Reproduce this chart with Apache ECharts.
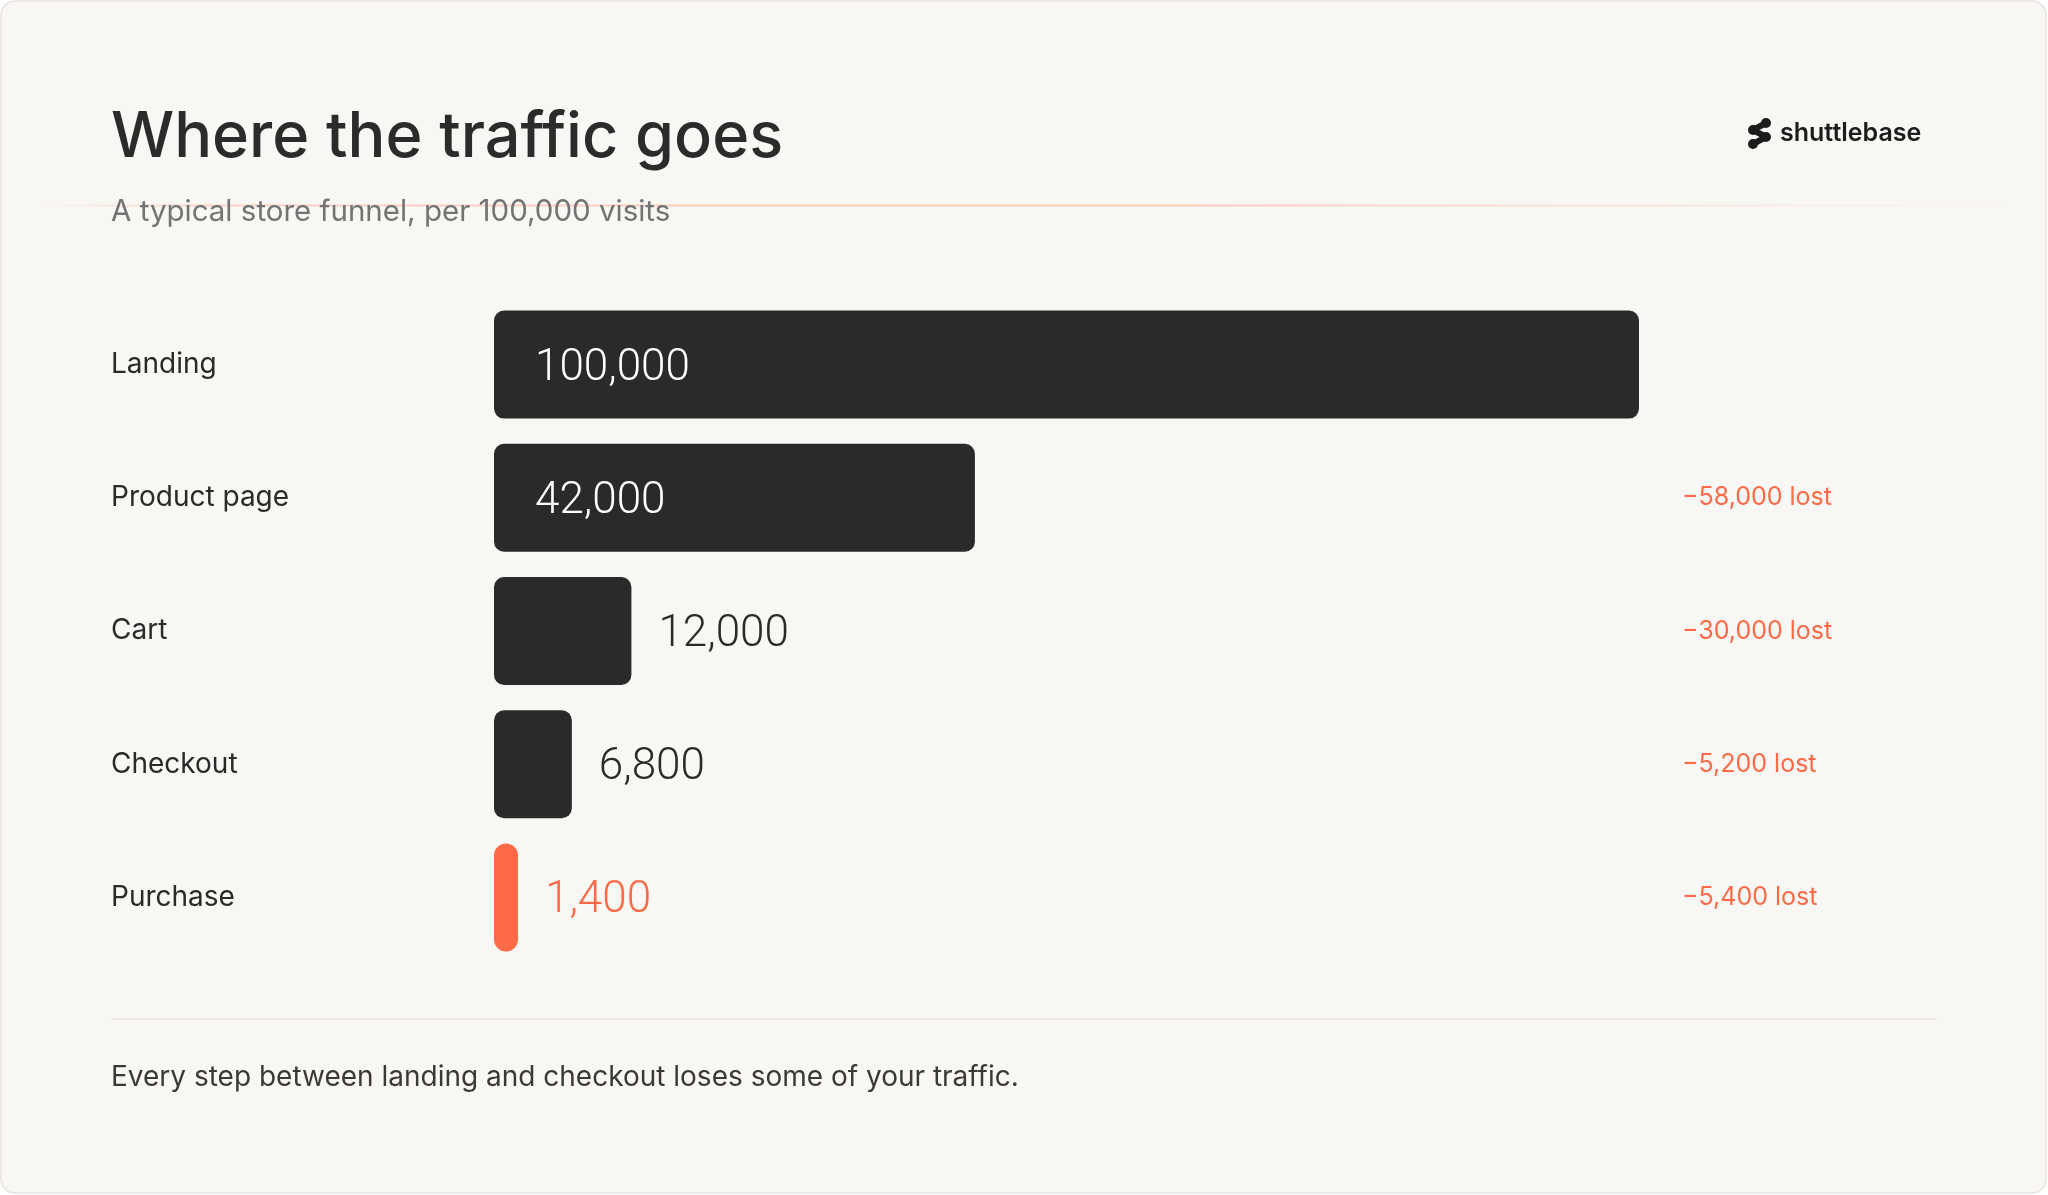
<!DOCTYPE html>
<html>
<head>
<meta charset="utf-8">
<title>Where the traffic goes</title>
<script src="https://cdn.jsdelivr.net/npm/echarts@6/dist/echarts.min.js"></script>
<style>
html, body { margin: 0; padding: 0; background: #ffffff; }
#funnel { width: 2048px; height: 1195px; }
</style>
</head>
<body>
<div id="funnel"></div>
<script>
// funnel steps, per 100,000 visits
var steps = ['Landing', 'Product page', 'Cart', 'Checkout', 'Purchase'];
var visits = [100000, 42000, 12000, 6800, 1400];
// visits lost vs. the previous step
var lost = [null, 58000, 30000, 5200, 5400];

var ink = '#2a2a2a';
var orange = '#fd6a48';
var sans = 'Inter, "Noto Sans", sans-serif';

function fmt(n) {
    return n.toLocaleString('en-US');
}

var barData = visits.map(function (v, i) {
    var last = i === visits.length - 1;
    var inside = v > 30000;   // wide bars carry their number inside
    return {
        value: v,
        itemStyle: { color: last ? orange : ink, borderRadius: last ? 12 : 10 },
        label: {
            position: inside ? 'insideLeft' : 'right',
            distance: inside ? 41 : 27,
            color: inside ? '#ffffff' : (last ? orange : ink)
        }
    };
});

var dom = document.getElementById('funnel');
var myChart = echarts.init(dom, null, { renderer: 'canvas' });
var option = {
    backgroundColor: '#ffffff',
    animation: false,
    grid: { left: 494, right: 409, top: 298, height: 666, containLabel: false },
    xAxis: { type: 'value', min: 0, max: 100000, show: false },
    yAxis: [{
        type: 'category',
        inverse: true,
        data: steps,
        axisLine: { show: false },
        axisTick: { show: false },
        axisLabel: {
            align: 'left',
            margin: 383,
            color: ink,
            fontFamily: sans,
            fontSize: 28,
            padding: [3, 0, 0, 0]
        }
    }, {
        // right-hand "lost" column
        type: 'category',
        inverse: true,
        position: 'right',
        data: steps,
        axisLine: { show: false },
        axisTick: { show: false },
        axisLabel: {
            align: 'left',
            margin: 43,
            color: orange,
            fontFamily: sans,
            fontSize: 25,
            padding: [5, 0, 0, 0],
            formatter: function (value, idx) {
                return lost[idx] ? '\u2212' + fmt(lost[idx]) + ' lost' : '';
            }
        }
    }],
    series: [{
        type: 'bar',
        data: barData,
        barWidth: 108,
        barMinHeight: 24,
        label: {
            show: true,
            fontFamily: 'Roboto, sans-serif',
            fontWeight: 300,
            fontSize: 44,
            offset: [0, 4],
            formatter: function (p) { return fmt(p.value); }
        }
    }],
    graphic: [
        // card
        { type: 'rect', z: -10, shape: { x: 1, y: 1, width: 2045, height: 1192, r: 14 },
          style: { fill: '#f9f7f3', stroke: '#e7e4df', lineWidth: 1.5 } },
        // faded rule under the header
        { type: 'rect', z: -5, shape: { x: 40, y: 204.5, width: 1970, height: 2 },
          style: { fill: new echarts.graphic.LinearGradient(0, 0, 1, 0, [
              { offset: 0, color: 'rgba(246,176,150,0)' },
              { offset: 0.08, color: 'rgba(246,176,150,0.5)' },
              { offset: 0.55, color: 'rgba(246,176,150,0.6)' },
              { offset: 1, color: 'rgba(246,176,150,0)' }
          ]) } },
        { type: 'text', x: 111, y: 138, style: {
            text: 'Where the traffic goes', fill: '#2b2b2b', font: '500 63px ' + sans,
            textVerticalAlign: 'middle' } },
        { type: 'text', x: 111, y: 212, style: {
            text: 'A typical store funnel, per 100,000 visits', fill: '#737373',
            font: '400 29.5px ' + sans, textVerticalAlign: 'middle' } },
        // logo mark
        { type: 'group', x: 1748, y: 118, children: [
            { type: 'polyline', shape: { points: [[18, 5], [5, 12], [18, 19], [5, 26]] },
              style: { stroke: '#1c1c1c', lineWidth: 6, lineCap: 'round', lineJoin: 'round', fill: null } },
            { type: 'circle', shape: { cx: 18, cy: 5, r: 5 }, style: { fill: '#1c1c1c' } },
            { type: 'circle', shape: { cx: 5, cy: 12, r: 5 }, style: { fill: '#1c1c1c' } },
            { type: 'circle', shape: { cx: 18, cy: 19, r: 5 }, style: { fill: '#1c1c1c' } },
            { type: 'circle', shape: { cx: 5, cy: 26, r: 5 }, style: { fill: '#1c1c1c' } }
        ] },
        { type: 'text', x: 1780, y: 133, style: {
            text: 'shuttlebase', fill: '#1c1c1c', font: '600 25px ' + sans,
            textVerticalAlign: 'middle' } },
        // footer
        { type: 'rect', shape: { x: 111, y: 1018, width: 1826, height: 2 },
          style: { fill: '#ebe8e3' } },
        { type: 'text', x: 111, y: 1078, style: {
            text: 'Every step between landing and checkout loses some of your traffic.',
            fill: '#3b3936', font: '400 28px ' + sans, textVerticalAlign: 'middle' } }
    ]
};

if (option && typeof option === 'object') {
    myChart.setOption(option, true);
}
</script>
</body>
</html>
